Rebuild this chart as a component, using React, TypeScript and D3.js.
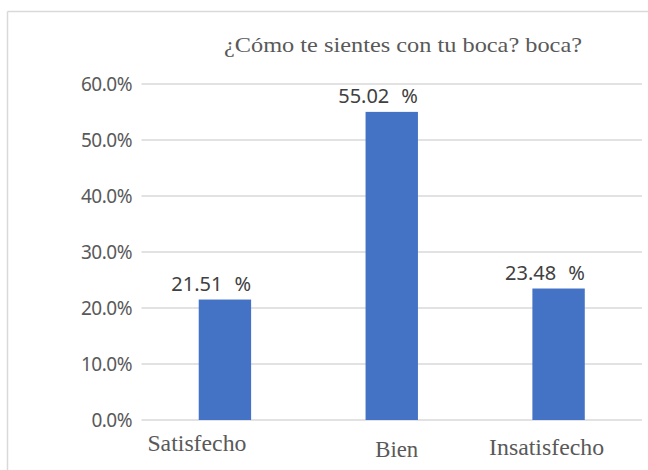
import React from "react";
import * as d3 from "d3";

const categories = ["Satisfecho", "Bien", "Insatisfecho"];
const values = [21.51, 55.02, 23.48];
const yTicks = [0, 10, 20, 30, 40, 50, 60];
const title = "¿Cómo te sientes con tu boca? boca?";

// styling for category labels (dx from bar centre, baseline y, rendered width)
const catLabelStyle = [
  { dx: -28, y: 451, w: 99 },
  { dx: 5, y: 457, w: 43 },
  { dx: -12, y: 455, w: 115 },
];

const W = 648;
const H = 470;

export default function App() {
  const x = d3
    .scaleBand<string>()
    .domain(categories)
    .range([141.5, 642])
    .paddingInner(0.686)
    .paddingOuter(0.343);
  const y = d3.scaleLinear().domain([0, 60]).range([420, 84]);
  const grid = "#d9d9d9";
  return (
    <svg
      width={W}
      height={H}
      style={{ position: "absolute", left: 0, top: 0, background: "#fff" }}
    >
      <rect x={0} y={0} width={W} height={H} fill="#fff" />
      <line x1={7.5} x2={W} y1={11.5} y2={11.5} stroke={grid} strokeWidth={1.5} />
      <line x1={7.5} x2={7.5} y1={11.5} y2={H} stroke={grid} strokeWidth={1.5} />
      <text
        x={224}
        y={52}
        textLength={358}
        lengthAdjust="spacingAndGlyphs"
        fontFamily="'Liberation Serif', 'Times New Roman', serif"
        fontSize={22}
        fill="#595959"
      >
        {title}
      </text>
      {yTicks.map((t) => (
        <g key={t}>
          <line
            x1={141.5}
            x2={642}
            y1={y(t)}
            y2={y(t)}
            stroke={grid}
            strokeWidth={1.5}
          />
          <text
            x={132}
            y={y(t) + 7}
            textAnchor="end"
            fontFamily="'Noto Sans', sans-serif"
            fontSize={19}
            letterSpacing={-0.5}
            fill="#595959"
          >
            {d3.format(".1f")(t) + "%"}
          </text>
        </g>
      ))}
      {categories.map((c, i) => {
        const bx = x(c) as number;
        const bw = x.bandwidth();
        const v = values[i];
        const st = catLabelStyle[i];
        return (
          <g key={c}>
            <rect x={bx} y={y(v)} width={bw} height={y(0) - y(v)} fill="#4472C4" />
            <text
              x={bx + bw}
              y={y(v) - 8.5}
              textAnchor="end"
              fontFamily="'Noto Sans', sans-serif"
              fontSize={20}
              fill="#404040"
            >
              <tspan>{d3.format(".2f")(v)}</tspan>
              <tspan dx={12}>%</tspan>
            </text>
            <text
              x={bx + bw / 2 + st.dx - st.w / 2}
              y={st.y}
              textLength={st.w}
              lengthAdjust="spacingAndGlyphs"
              fontFamily="'Liberation Serif', 'Times New Roman', serif"
              fontSize={23}
              fill="#595959"
            >
              {c}
            </text>
          </g>
        );
      })}
    </svg>
  );
}
